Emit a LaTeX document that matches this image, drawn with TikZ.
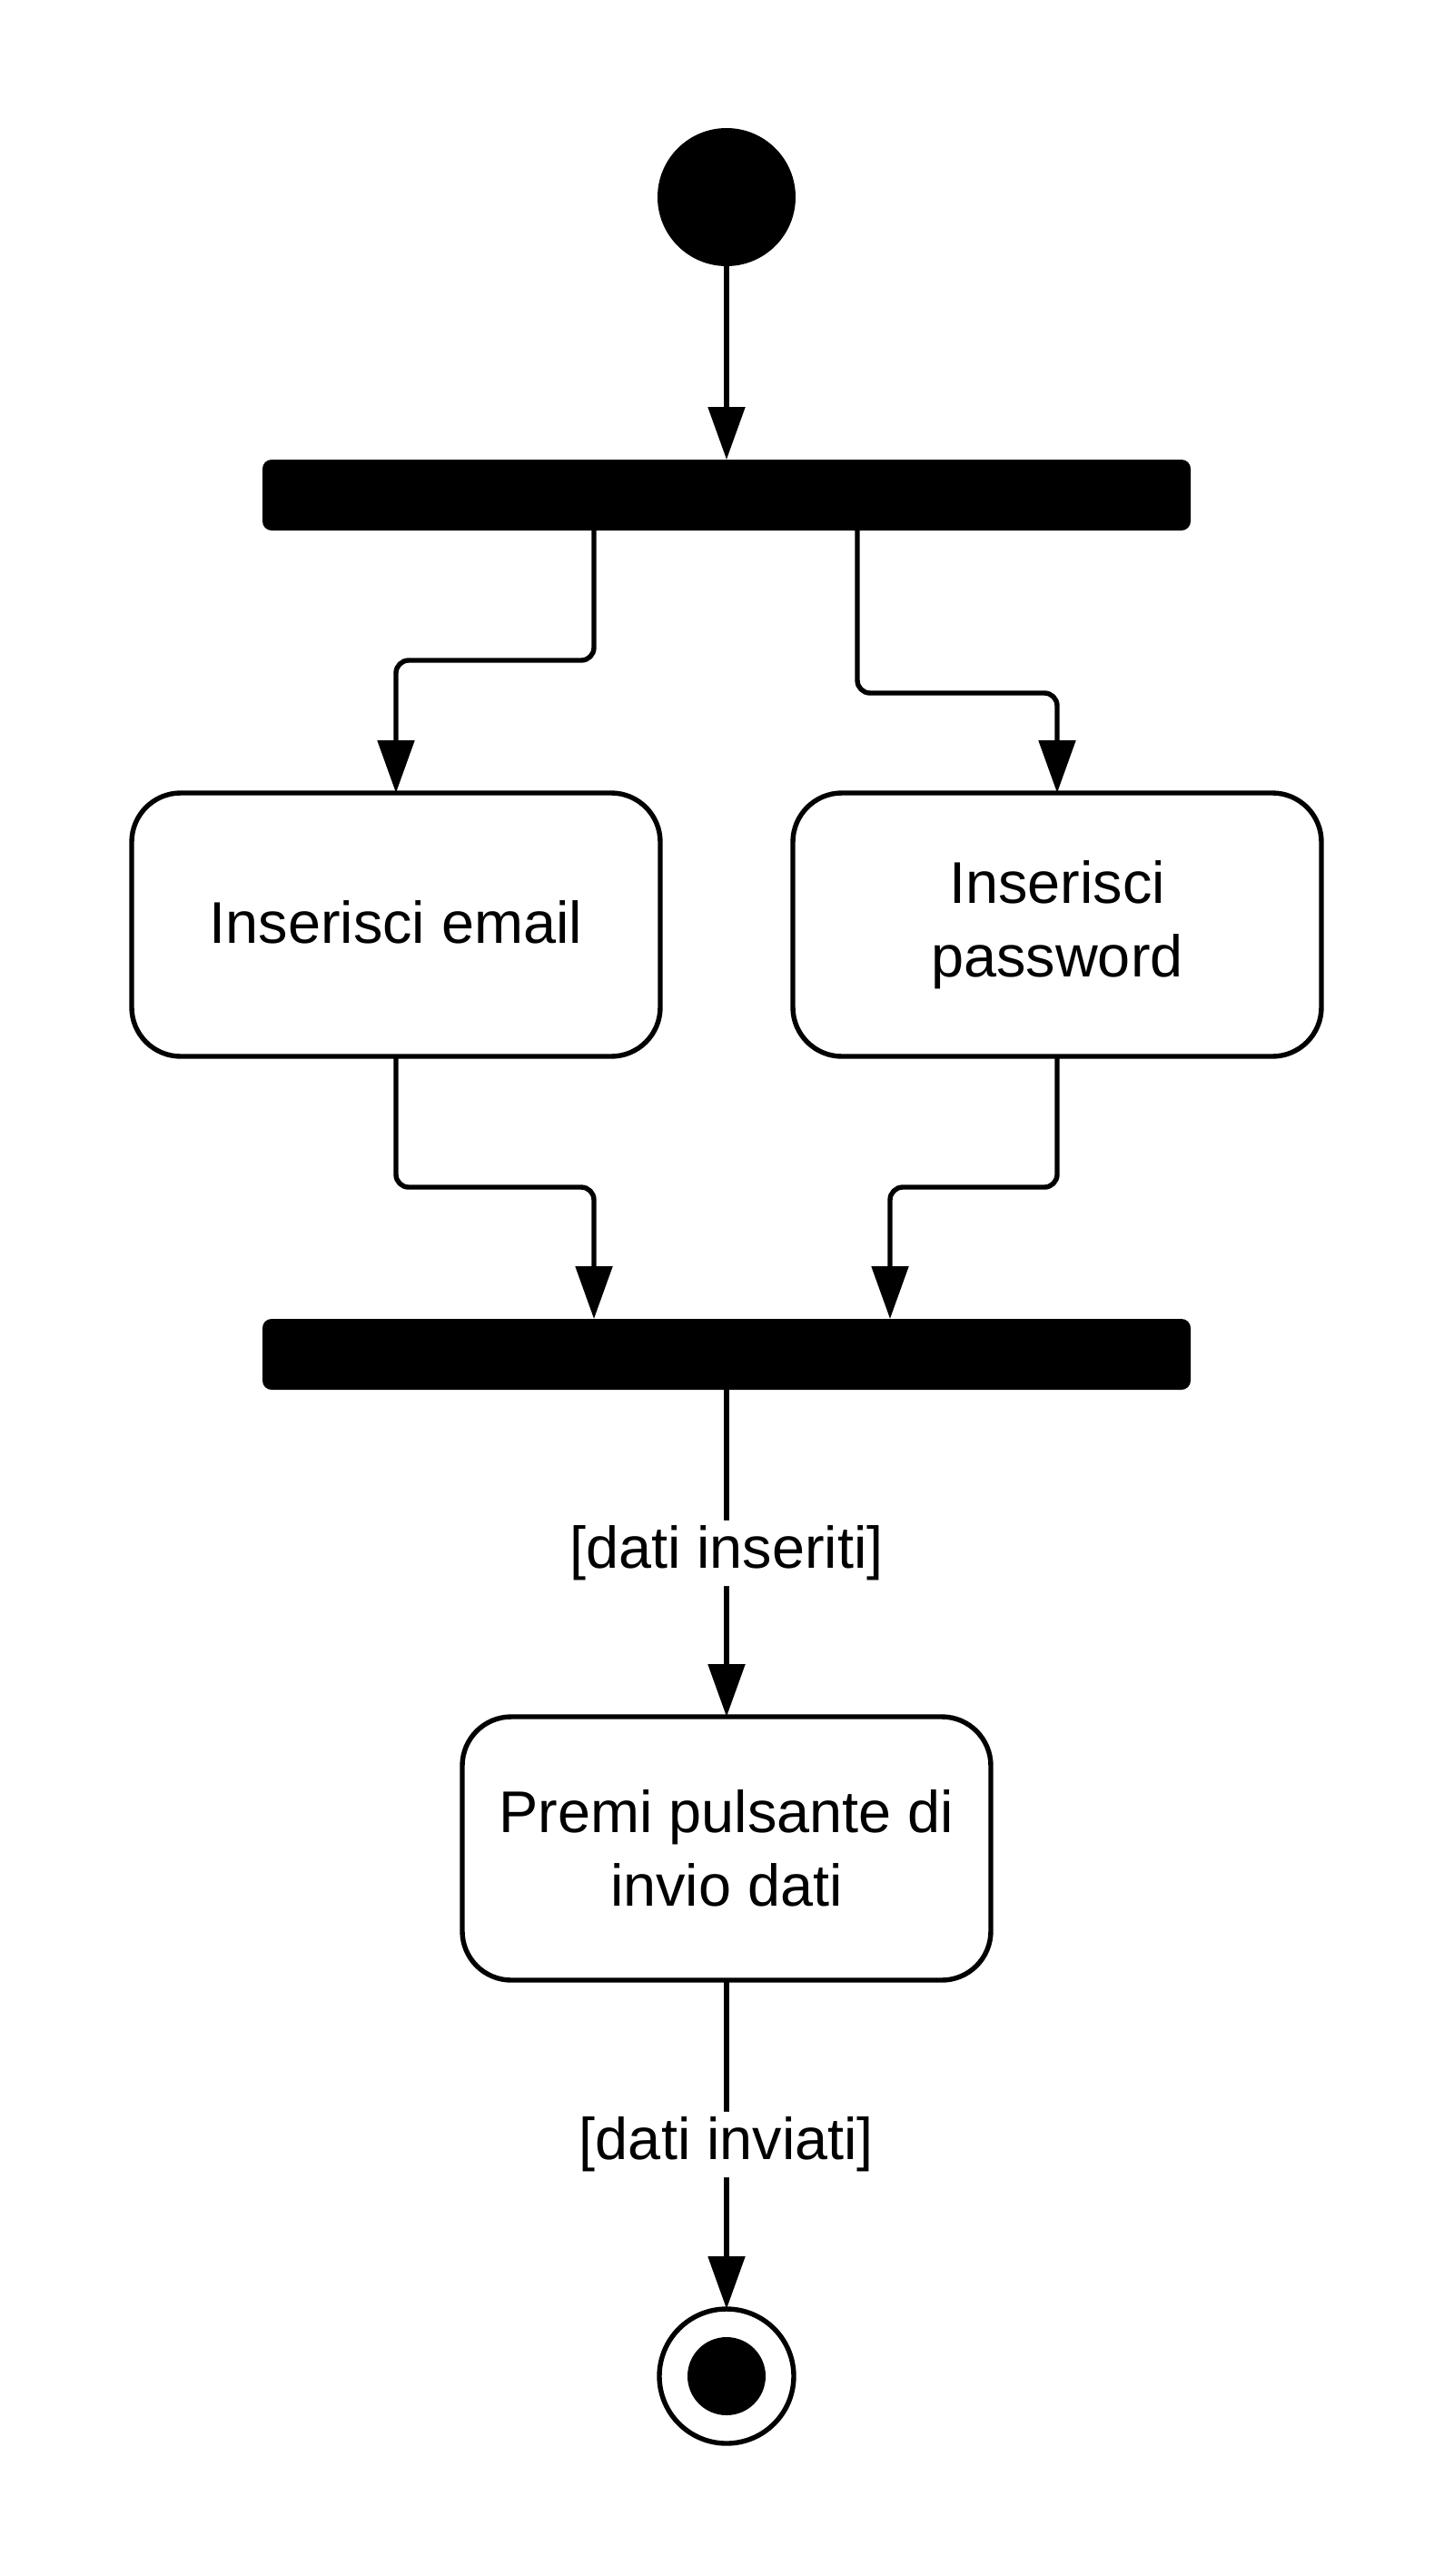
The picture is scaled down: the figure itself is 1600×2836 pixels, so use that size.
\documentclass[tikz,border=0pt]{standalone}
\usepackage{fontspec}
\setmainfont{Liberation Sans}
\usetikzlibrary{arrows.meta}
\begin{document}
\begin{tikzpicture}[x=0.5pt,y=-0.5pt, line width=2.7pt,
  txt/.style={font=\fontsize{32.4}{40.5}\selectfont},
  act/.style={draw, txt, rounded corners=27pt, minimum width=291pt, minimum height=145pt, align=center, inner sep=0pt, outer sep=0pt},
  bar/.style={fill=black, rounded corners=5pt, minimum width=511pt, minimum height=39pt, inner sep=0pt, outer sep=0pt},
  arr/.style={-{Triangle[length=29pt,width=20pt]}, rounded corners=7pt},
  lbl/.style={fill=white, txt, inner sep=3pt}]
\useasboundingbox (0,0) rectangle (1600,2836);
\node[circle, fill=black, minimum size=76pt, inner sep=0pt, outer sep=0pt] (start) at (800,217) {};
\node[bar] (bar1) at (800,545) {};
\node[act] (box1) at (436,1018) {\raisebox{3pt}{Inserisci email}};
\node[act] (box2) at (1164,1018) {Inserisci\\password};
\node[bar] (bar2) at (800,1491) {};
\node[act] (box3) at (800,2035) {Premi pulsante di\\invio dati};
\node[circle, draw, fill=white, minimum size=74pt, inner sep=0pt, outer sep=0pt] (end) at (800,2616) {};
\node[circle, fill=black, minimum size=43pt, inner sep=0pt] (endin) at (end.center) {};
\coordinate (j1) at (654,0);
\coordinate (j2) at (944,0);
\coordinate (j3) at (654,0);
\coordinate (j4) at (980,0);
\coordinate (h1) at (0,727);
\coordinate (h2) at (0,763);
\coordinate (h3) at (0,1307);
\draw[arr] (start.south) -- (bar1.north);
\draw[arr] (bar1.south -| j1) -- (h1 -| j1) -| (box1.north);
\draw[arr] (bar1.south -| j2) -- (h2 -| j2) -| (box2.north);
\draw[arr] (box1.south) -- (h3 -| box1.south) -| (bar2.north -| j3);
\draw[arr] (box2.south) -- (h3 -| box2.south) -| (bar2.north -| j4);
\draw[arr] (bar2.south) -- (box3.north) node[lbl, pos=0.5] (l1) {[dati inseriti]};
\draw[arr] (box3.south) -- (end.north) node[lbl, pos=0.5] (l2) {[dati inviati]};
\end{tikzpicture}
\end{document}
